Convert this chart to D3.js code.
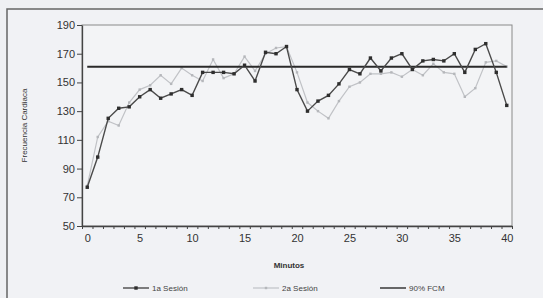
<!DOCTYPE html>
<html>
<head>
<meta charset="utf-8">
<script src="https://cdn.jsdelivr.net/npm/d3@7"></script>
<style>
  body { margin: 0; background: #eff0f3; }
  svg { display: block; font-family: "Liberation Sans", Arial, sans-serif; }
</style>
</head>
<body>
<div class="chart"></div>
<script>
// minutes 0..40
var minutos = d3.range(0, 41);
var sesion1 = [77, 98, 125, 132, 133, 140, 145, 139, 142, 145, 141, 157, 157, 157, 156, 162, 151, 171, 170, 175,
  145, 130, 137, 141, 149, 159, 156, 167, 158, 167, 170, 159, 165, 166, 165, 170, 157, 173, 177, 157, 134];
var sesion2 = [78, 112, 123, 120, 136, 145, 148, 155, 149, 160, 155, 151, 166, 153, 156, 168, 158, 170, 174, 175,
  157, 136, 130, 125, 137, 147, 150, 156, 156, 157, 154, 159, 155, 163, 157, 156, 140, 146, 164, 165, 161];
var fcm90 = 161;
var yTicks = [50, 70, 90, 110, 130, 150, 170, 190];
var xLabels = [0, 5, 10, 15, 20, 25, 30, 35, 40];

var svgWidth = 543, svgHeight = 298;
var margin = { top: 25, right: 31, bottom: 72, left: 82 };
var width = svgWidth - margin.left - margin.right;
var height = svgHeight - margin.top - margin.bottom;

var svg = d3.select(".chart").append("svg")
  .attr("width", svgWidth)
  .attr("height", svgHeight);

// outer chart frame (scanned page, runs off right/bottom)
svg.append("rect")
  .attr("x", 7).attr("y", 9)
  .attr("width", 545).attr("height", 300)
  .attr("fill", "#f1f2f5")
  .attr("stroke", "#666")
  .attr("stroke-width", 1.5);

var chartGroup = svg.append("g")
  .attr("transform", `translate(${margin.left}, ${margin.top})`);

// plot area border
chartGroup.append("rect")
  .attr("width", width).attr("height", height)
  .attr("fill", "#f3f4f6")
  .attr("stroke", "#8a8a8a")
  .attr("stroke-width", 1);

var x = d3.scaleLinear().domain([-0.5, 40.5]).range([0, width]);
var y = d3.scaleLinear().domain([50, 190]).range([height, 0]);

// y axis
var yAxis = chartGroup.append("g")
  .call(d3.axisLeft(y).tickValues(yTicks).tickSize(5).tickSizeOuter(0));
yAxis.select(".domain").attr("stroke", "#444").attr("stroke-width", 1.3);
yAxis.selectAll(".tick line").attr("stroke", "#444");
yAxis.selectAll("text").attr("fill", "#333").style("font-size", "11px").attr("x", -7);

// x axis: small ticks between categories
var xTickAxis = chartGroup.append("g")
  .attr("transform", `translate(0, ${height})`)
  .call(d3.axisBottom(x).tickValues(d3.range(-0.5, 41, 1)).tickSize(3).tickSizeOuter(0).tickFormat(""));
xTickAxis.select(".domain").attr("stroke", "#444").attr("stroke-width", 1.3);
xTickAxis.selectAll(".tick line").attr("stroke", "#444");

var xLabelAxis = chartGroup.append("g")
  .attr("transform", `translate(0, ${height})`)
  .call(d3.axisBottom(x).tickValues(xLabels).tickSize(0));
xLabelAxis.select(".domain").remove();
xLabelAxis.selectAll("text").attr("fill", "#333").style("font-size", "11px").attr("dy", "1.15em");

// axis titles
chartGroup.append("text")
  .attr("x", width / 2 - 8).attr("y", height + 42)
  .attr("text-anchor", "middle")
  .style("font-size", "8px").style("font-weight", "bold")
  .attr("fill", "#333")
  .text("Minutos");

chartGroup.append("text")
  .attr("transform", `translate(${-55}, ${height / 2}) rotate(-90)`)
  .attr("text-anchor", "middle")
  .style("font-size", "8px")
  .attr("fill", "#333")
  .text("Frecuencia Cardiaca");

var line = d3.line()
  .x((d, i) => x(minutos[i]))
  .y(d => y(d));

// 2a sesion (light)
chartGroup.append("path")
  .datum(sesion2)
  .attr("d", line)
  .attr("fill", "none")
  .attr("stroke", "#c0c2c6")
  .attr("stroke-width", 1.2);
chartGroup.selectAll(".m2").data(sesion2).enter().append("rect")
  .attr("class", "m2")
  .attr("x", (d, i) => x(minutos[i]) - 1.2)
  .attr("y", d => y(d) - 1.2)
  .attr("width", 2.4).attr("height", 2.4)
  .attr("fill", "#b5b7bb");

// 90% FCM
chartGroup.append("path")
  .datum([0, 40])
  .attr("d", d3.line().x(d => x(d)).y(() => y(fcm90)))
  .attr("stroke", "#2a2a2a")
  .attr("stroke-width", 2);

// 1a sesion (dark)
chartGroup.append("path")
  .datum(sesion1)
  .attr("d", line)
  .attr("fill", "none")
  .attr("stroke", "#4a4a4a")
  .attr("stroke-width", 1.4);
chartGroup.selectAll(".m1").data(sesion1).enter().append("rect")
  .attr("class", "m1")
  .attr("x", (d, i) => x(minutos[i]) - 1.7)
  .attr("y", d => y(d) - 1.7)
  .attr("width", 3.4).attr("height", 3.4)
  .attr("fill", "#2e2e2e");

// legend
var legend = [
  { name: "1a Sesión", x: 123, color: "#4a4a4a", w: 1.4, marker: 3.4, mcolor: "#2e2e2e" },
  { name: "2a Sesión", x: 253, color: "#c0c2c6", w: 1.2, marker: 2.4, mcolor: "#b5b7bb" },
  { name: "90% FCM", x: 380, color: "#2a2a2a", w: 1.4, marker: 0, mcolor: "none" }
];
var lg = svg.selectAll(".legend").data(legend).enter().append("g")
  .attr("transform", d => `translate(${d.x}, 288)`);
lg.append("line")
  .attr("x1", 0).attr("x2", 26).attr("y1", 0).attr("y2", 0)
  .attr("stroke", d => d.color).attr("stroke-width", d => d.w);
lg.filter(d => d.marker > 0).append("rect")
  .attr("x", d => 13 - d.marker / 2).attr("y", d => -d.marker / 2)
  .attr("width", d => d.marker).attr("height", d => d.marker)
  .attr("fill", d => d.mcolor);
lg.append("text")
  .attr("x", 29).attr("y", 3)
  .style("font-size", "8px")
  .attr("fill", "#444")
  .text(d => d.name);
</script>
</body>
</html>
